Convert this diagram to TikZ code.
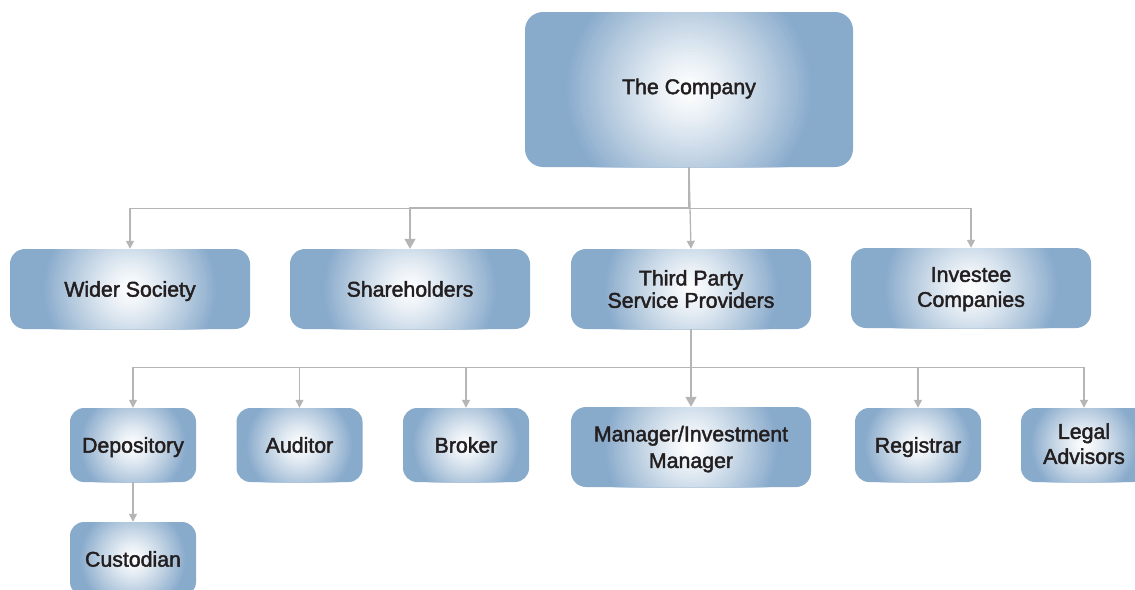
\documentclass[tikz,border=0pt]{standalone}
\usepackage{fontspec}
\setmainfont[FakeBold=2]{Liberation Sans}
\usetikzlibrary{arrows.meta}
\definecolor{sb}{HTML}{88AACB}
\definecolor{txt}{HTML}{231F20}
\definecolor{ln}{HTML}{B5B5B5}
\tikzset{
  glowbox/.style={rectangle, draw=none, fill=sb, text=txt, align=center, inner sep=0pt,
    font=\fontsize{21.3}{22}\selectfont, text height=15.25pt, text depth=0pt,
    path picture={\foreach \k in {0,...,40}{%
        \pgfmathsetmacro\rr{#1*(1-\k/40)+0.3}%
        \pgfmathsetmacro\pp{100*(1-\k/40)^1.2}%
        \fill[sb!\pp!white] (path picture bounding box.center) circle[radius=\rr];}}},
  bigbox/.style={glowbox=125, minimum width=328pt, minimum height=155pt, rounded corners=18pt},
  widebox/.style={glowbox=88, minimum width=240pt, minimum height=80pt, rounded corners=15pt},
  smallbox/.style={glowbox=54, minimum width=126pt, minimum height=74pt, rounded corners=14pt},
  conn/.style={draw=ln, line width=1.3pt, -{Triangle[length=8pt,width=8pt]}},
  connbig/.style={draw=ln, line width=1.5pt, -{Triangle[length=10pt,width=11pt]}}
}
\begin{document}
\begin{tikzpicture}[x=1pt,y=-1pt]
\useasboundingbox (0,0) rectangle (1135,589);
\clip (0,0) rectangle (1135,589);
\node[bigbox, text depth=6pt] (comp) at (689,89.5) {The Company};
\node[widebox] (wider) at (130,289) {Wider Society};
\node[widebox] (share) at (410,289) {Shareholders};
\node[widebox, text height=37.55pt] (third) at (691,289) {Third Party\\[0.3pt]Service Providers};
\node[widebox, text height=40.25pt, text depth=2.6pt] (invest) at (971,288) {Investee\\[3pt]Companies};
\node[smallbox] (depo) at (133,445) {Depository};
\node[smallbox] (aud) at (299.5,445) {Auditor};
\node[smallbox] (brok) at (466,445) {Broker};
\node[widebox, text height=41.85pt] (mgr) at (691,447) {Manager/Investment\\[4.6pt]Manager};
\node[smallbox] (reg) at (918,445) {Registrar};
\node[smallbox, text height=40.25pt, text depth=2.6pt] (legal) at (1084,445) {Legal\\[3pt]Advisors};
\node[smallbox] (cust) at (133,559) {Custodian};
\draw[conn] (comp.south) -- ++(0,41) -| (wider.north);
\draw[connbig] (comp.south) -- ++(0,41) -| (share.north);
\draw[conn] (comp.south) -- (third.north);
\draw[conn] (comp.south) -- ++(0,41) -| (invest.north);
\draw[conn] (third.south) -- ++(0,38) -| (depo.north);
\draw[conn] (third.south) -- ++(0,38) -| (aud.north);
\draw[conn] (third.south) -- ++(0,38) -| (brok.north);
\draw[connbig] (third.south) -- (mgr.north);
\draw[conn] (third.south) -- ++(0,38) -| (reg.north);
\draw[conn] (third.south) -- ++(0,38) -| (legal.north);
\draw[conn] (depo.south) -- (cust.north);
\end{tikzpicture}
\end{document}
